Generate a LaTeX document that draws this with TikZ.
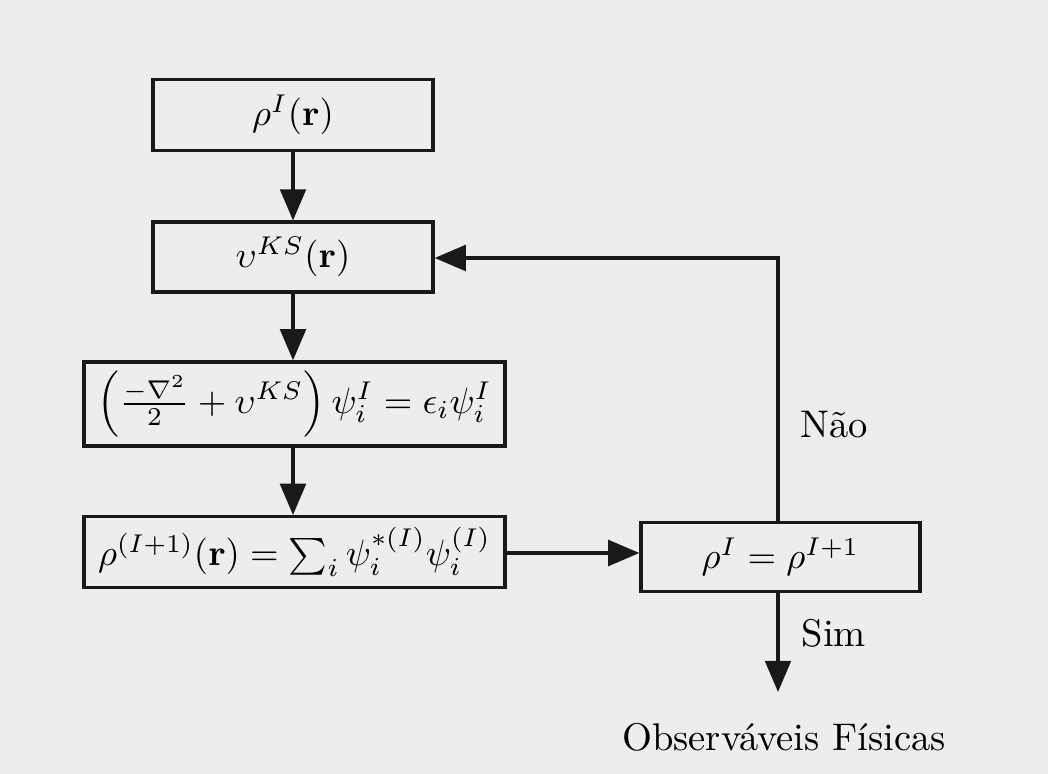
\documentclass[tikz,border=0pt]{standalone}
\usepackage{amsmath}
\usetikzlibrary{arrows.meta}
\begin{document}
\begin{tikzpicture}[x=0.2725pt,y=-0.2725pt,
  box/.style={draw=black!90,line width=0.9pt,inner sep=0pt,fill=none,font=\fontsize{10.3pt}{12pt}\selectfont},
  arr/.style={line width=0.9pt,draw=black!90,-{Triangle[length=8.5pt,width=7pt]}},
  lbl/.style={inner sep=0pt,font=\fontsize{10.5pt}{12pt}\selectfont}]
\fill[black!7] (0,0) rectangle (1048,774);
\node[box,minimum width=76.3pt,minimum height=19.3pt] (b1) at (293,115) {$\rho^I(\mathbf{r})$};
\node[box,minimum width=76.3pt,minimum height=19pt] (b2) at (293,257) {$\upsilon^{KS}(\mathbf{r})$};
\node[box,minimum width=114.7pt,minimum height=22.9pt] (b3) at (294.5,404) {$\Big(\frac{-\nabla^2}{2}+\upsilon^{KS}\Big)\,\psi_i^I=\epsilon_i\psi_i^I$};
\node[box,minimum width=114.7pt,minimum height=19.3pt] (b4) at (294.5,552) {$\rho^{(I+1)}(\mathbf{r})=\sum_i\psi_i^{*(I)}\psi_i^{(I)}$};
\node[box,minimum width=76pt,minimum height=18.8pt] (b5) at (780.5,557) {$\rho^I=\rho^{I+1}$};
\node[lbl] (obs) at (784,737) {Observáveis Físicas};
\node[lbl,anchor=west] (nao) at (800,425) {Não};
\node[lbl,anchor=west] (sim) at (801,633) {Sim};
\coordinate (c1) at (778,258);
\coordinate (c2) at (778,692);
\draw[arr] (b1.south) -- (b2.north);
\draw[arr] (b2.south) -- (b3.north -| b2.south);
\draw[arr] (b3.south -| b2.south) -- (b4.north -| b2.south);
\draw[arr] (b4.east |- 0,553) -- (b5.west |- 0,553);
\draw[arr] (b5.north -| c1) -- (c1) -- (b2.east |- c1);
\draw[arr] (b5.south -| c2) -- (c2);
\end{tikzpicture}
\end{document}
